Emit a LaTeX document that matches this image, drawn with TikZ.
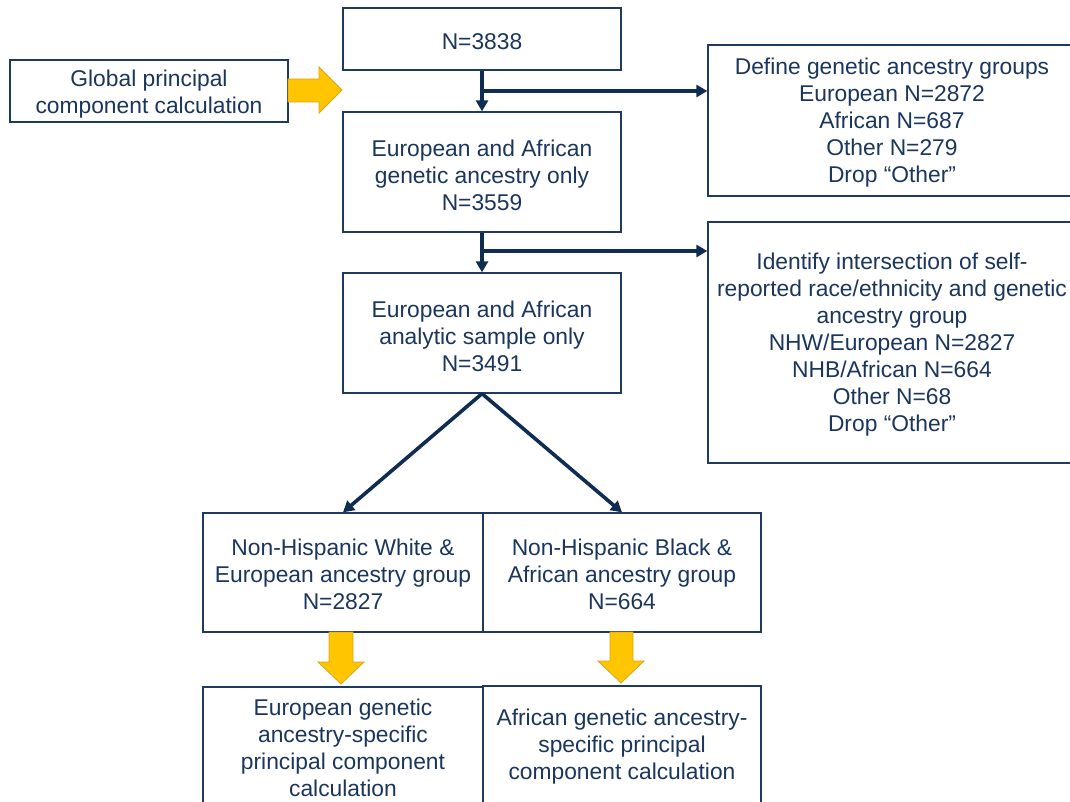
\documentclass[tikz,border=0pt]{standalone}
\usepackage{fontspec}
\setmainfont{Liberation Sans}
\usetikzlibrary{arrows.meta}
\definecolor{boxc}{HTML}{1F3A5F}
\definecolor{linec}{HTML}{0F2D52}
\definecolor{txt}{HTML}{1B365D}
\definecolor{yel}{HTML}{FFC600}
\definecolor{yelb}{HTML}{D9A520}
\tikzset{
  box/.style={draw=boxc, line width=1.3pt, inner sep=0pt},
  txtst/.style={text=txt, align=center, inner sep=0pt, font=\fontsize{22.8}{27}\selectfont},
  conn/.style={draw=linec, line width=3.6pt, -{Triangle[width=12pt,length=11pt]}},
  yarrow/.style={fill=yel, draw=yelb, line width=0.8pt, line join=miter}
}
\begin{document}
\begin{tikzpicture}[x=1pt,y=-1pt]
\useasboundingbox (0,0) rectangle (1070,802);
\clip (0,0) rectangle (1070,802);
\fill[white] (0,0) rectangle (1070,802);

\node[box, minimum width=278pt, minimum height=62pt] (glob) at (149,91) {};
\node[box, minimum width=278pt, minimum height=62pt] (n1) at (482,39) {};
\node[box, minimum width=278pt, minimum height=120pt] (n2) at (482,172) {};
\node[box, minimum width=278pt, minimum height=120pt] (n3) at (482,333) {};
\node[box, minimum width=368pt, minimum height=151pt] (def) at (892,120.5) {};
\node[box, minimum width=368pt, minimum height=241pt] (idf) at (892,342.5) {};
\node[box, minimum width=280pt, minimum height=119pt] (nhw) at (343,572.5) {};
\node[box, minimum width=278pt, minimum height=119pt] (nhb) at (622,572.5) {};
\node[box, minimum width=280pt, minimum height=119pt] (eur) at (343,746.5) {};
\node[box, minimum width=278pt, minimum height=120pt] (afr) at (622,746) {};

\node[txtst] (tglob) at ([yshift=-3pt]glob.center) {Global principal\\component calculation};
\node[txtst] (tn1) at ([yshift=-3pt]n1.center) {N=3838};
\node[txtst] (tn2) at ([yshift=-3pt]n2.center) {European and African\\genetic ancestry only\\N=3559};
\node[txtst] (tn3) at ([yshift=-3pt]n3.center) {European and African\\analytic sample only\\N=3491};
\node[txtst] (tdef) at ([yshift=-2pt]def.center) {Define genetic ancestry groups\\European N=2872\\African N=687\\Other N=279\\Drop “Other”};
\node[txtst] (tidf) at ([yshift=-2pt]idf.center) {Identify intersection of self-\\reported race/ethnicity and genetic\\ancestry group\\NHW/European N=2827\\NHB/African N=664\\Other N=68\\Drop “Other”};
\node[txtst] (tnhw) at ([yshift=-2pt]nhw.center) {Non-Hispanic White \&\\European ancestry group\\N=2827};
\node[txtst] (tnhb) at ([yshift=-2pt]nhb.center) {Non-Hispanic Black \&\\African ancestry group\\N=664};
\node[txtst] (teur) at ([yshift=-1pt]eur.center) {European genetic\\ancestry-specific\\principal component\\calculation};
\node[txtst] (tafr) at ([yshift=-1pt]afr.center) {African genetic ancestry-\\specific principal\\component calculation};

% connectors
\draw[conn] (n1.south) -- (n2.north);
\coordinate (b1) at (483,91);
\draw[conn] (b1) -- (b1 -| def.west);
\draw[conn] (n2.south) -- (n3.north);
\coordinate (b2) at (483,251);
\draw[conn] (b2) -- (b2 -| idf.west);
\draw[conn] (n3.south) -- (nhw.north);
\draw[conn] (n3.south) -- (nhb.north);

% yellow block arrows
\draw[yarrow] (288,79) -- (319,79) -- (319,67) -- (342,90) -- (319,113) -- (319,102) -- (288,102) -- cycle;
\draw[yarrow] (329,632) -- (353,632) -- (353,662) -- (364,662) -- (341,684) -- (318,662) -- (329,662) -- cycle;
\draw[yarrow] (610,632) -- (633,632) -- (633,661) -- (644,661) -- (621,683) -- (598,661) -- (610,661) -- cycle;
\end{tikzpicture}
\end{document}
